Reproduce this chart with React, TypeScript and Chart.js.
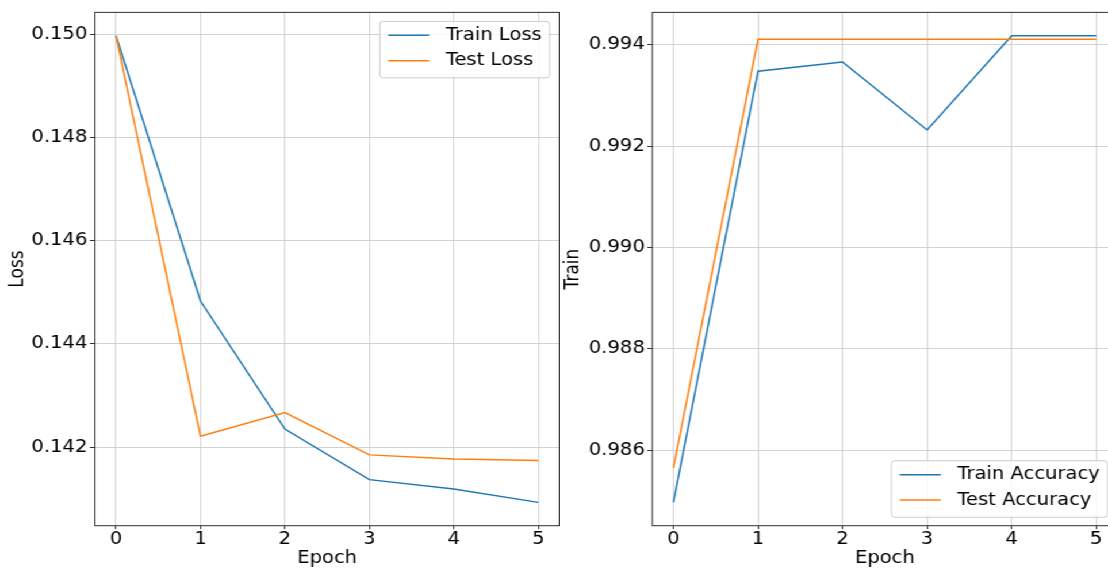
import React, { useEffect, useRef } from 'react';
import { Chart, registerables } from 'chart.js';

Chart.register(...registerables);

// ---- data ----
const epochs = [0, 1, 2, 3, 4, 5];
const epochTickLabels = ['0', '1', '2', '3', '4', '5'];

const trainLoss = [0.14997, 0.14483, 0.14235, 0.14137, 0.14119, 0.14093];
const testLoss = [0.149965, 0.14221, 0.14267, 0.14185, 0.14177, 0.14174];

const trainAccuracy = [0.98497, 0.99348, 0.99366, 0.99232, 0.99418, 0.99418];
const testAccuracy = [0.98565, 0.99411, 0.99411, 0.99411, 0.99411, 0.99411];

const lossTicks = [0.142, 0.144, 0.146, 0.148, 0.15];
const lossTickLabels = ['0.142', '0.144', '0.146', '0.148', '0.150'];
const accTicks = [0.986, 0.988, 0.99, 0.992, 0.994];
const accTickLabels = ['0.986', '0.988', '0.990', '0.992', '0.994'];

// ---- style ----
const FONT = '"DejaVu Sans", "Liberation Sans", sans-serif';
const S = 1.15; // horizontal stretch of the reference picture
const FS = 17;
const HALF_LH = (FS * 1.2) / 2;
const BLUE = '#1f77b4';
const ORANGE = '#ff7f0e';
const GRID = '#c8c8c8';
const TEXT = '#000';

// layout in picture pixels, converted to unstretched units
const LEFT_CANVAS_W = Math.round(560 / S);
const LEFT_AREA_L = 94.9 / S;
const LEFT_AREA_R = 559.4 / S;
const RIGHT_AREA_L = 652.3 / S - LEFT_CANVAS_W;
const RIGHT_AREA_R_ABS = 1117.4 / S;
const RIGHT_CANVAS_W = Math.ceil(RIGHT_AREA_R_ABS) - LEFT_CANVAS_W;

function autoRange(values: number[]): [number, number] {
  const lo = Math.min(...values);
  const hi = Math.max(...values);
  const m = (hi - lo) * 0.05;
  return [lo - m, hi + m];
}

const framePlugin = {
  id: 'frame',
  afterDatasetsDraw(chart: any) {
    const { ctx, chartArea: a } = chart;
    ctx.save();
    ctx.strokeStyle = '#2e2e2e';
    ctx.lineWidth = 1;
    ctx.strokeRect(a.left, a.top, a.right - a.left, a.bottom - a.top);
    ctx.restore();
  },
};

function legendPlugin(loc: 'upper right' | 'lower right') {
  return {
    id: 'mplLegend',
    afterDraw(chart: any) {
      const { ctx, chartArea: a } = chart;
      const ds = chart.data.datasets;
      ctx.save();
      ctx.font = `${FS}px ${FONT}`;
      const textW = Math.max(...ds.map((d: any) => ctx.measureText(d.label).width));
      const textStart = 66 / S;
      const w = textStart + textW + 7.8 / S;
      const h = 56.5;
      const right = a.right - 9.8 / S;
      const left = right - w;
      const top = loc === 'upper right' ? a.top + 9 : a.bottom - 8.4 - h;
      ctx.beginPath();
      ctx.roundRect(left, top, w, h, 3);
      ctx.fillStyle = 'rgba(255,255,255,0.8)';
      ctx.fill();
      ctx.strokeStyle = '#cccccc';
      ctx.lineWidth = 1;
      ctx.stroke();
      ds.forEach((d: any, i: number) => {
        const y = top + 14 + i * 25.3;
        ctx.beginPath();
        ctx.moveTo(left + 8.4 / S, y);
        ctx.lineTo(left + 49.4 / S, y);
        ctx.strokeStyle = d.borderColor;
        ctx.lineWidth = 1.5;
        ctx.stroke();
        ctx.fillStyle = TEXT;
        ctx.textAlign = 'left';
        ctx.textBaseline = 'middle';
        ctx.fillText(d.label, left + textStart, y);
      });
      ctx.restore();
    },
  };
}

interface Cfg {
  train: number[];
  test: number[];
  trainLabel: string;
  testLabel: string;
  ticks: number[];
  tickLabels: string[];
  yTitle: string;
  yWidth: number;
  yTitlePad: number;
  padRight: number;
  legendLoc: 'upper right' | 'lower right';
}

function buildConfig(c: Cfg): any {
  const [ymin, ymax] = autoRange([...c.train, ...c.test]);
  const [xmin, xmax] = autoRange(epochs);
  const font = { family: FONT, size: FS };
  return {
    type: 'line',
    data: {
      datasets: [
        {
          label: c.trainLabel,
          data: epochs.map((e, i) => ({ x: e, y: c.train[i] })),
          borderColor: BLUE,
          backgroundColor: BLUE,
          borderWidth: 1.5,
          pointRadius: 0,
          tension: 0,
          fill: false,
          order: 1,
        },
        {
          label: c.testLabel,
          data: epochs.map((e, i) => ({ x: e, y: c.test[i] })),
          borderColor: ORANGE,
          backgroundColor: ORANGE,
          borderWidth: 1.5,
          pointRadius: 0,
          tension: 0,
          fill: false,
          order: 0,
        },
      ],
    },
    options: {
      responsive: false,
      animation: false,
      events: [],
      layout: { padding: { top: 10, left: 0, right: c.padRight, bottom: 0 } },
      plugins: {
        legend: { display: false },
        tooltip: { enabled: false },
        title: { display: false },
      },
      scales: {
        x: {
          type: 'linear',
          min: xmin,
          max: xmax,
          afterBuildTicks: (s: any) => {
            s.ticks = epochs.map((v) => ({ value: v }));
          },
          afterFit: (s: any) => {
            s.height = 43.3;
          },
          ticks: {
            autoSkip: false,
            maxRotation: 0,
            minRotation: 0,
            padding: 0,
            color: TEXT,
            font,
            callback: (_v: any, i: number) => epochTickLabels[i],
          },
          grid: { color: GRID, lineWidth: 0.8, tickLength: 3.5, tickColor: '#333', tickWidth: 1, drawTicks: true },
          border: { display: false },
          title: {
            display: true,
            text: 'Epoch',
            color: TEXT,
            font,
            padding: { top: 0, bottom: Math.max(0, 569 - 558.7 - HALF_LH) },
          },
        },
        y: {
          type: 'linear',
          min: ymin,
          max: ymax,
          afterBuildTicks: (s: any) => {
            s.ticks = c.ticks.map((v) => ({ value: v }));
          },
          afterFit: (s: any) => {
            s.width = c.yWidth;
          },
          ticks: {
            autoSkip: false,
            padding: 2.5 / S,
            color: TEXT,
            font,
            callback: (_v: any, i: number) => c.tickLabels[i],
          },
          grid: { color: GRID, lineWidth: 0.8, tickLength: 5 / S, tickColor: '#333', tickWidth: 1, drawTicks: true },
          border: { display: false },
          title: { display: true, text: c.yTitle, color: TEXT, font, padding: { top: c.yTitlePad, bottom: 0 } },
        },
      },
    },
    plugins: [framePlugin, legendPlugin(c.legendLoc)],
  };
}

export default function App() {
  const leftRef = useRef<HTMLCanvasElement>(null);
  const rightRef = useRef<HTMLCanvasElement>(null);

  useEffect(() => {
    const c1 = new Chart(
      leftRef.current as HTMLCanvasElement,
      buildConfig({
        train: trainLoss,
        test: testLoss,
        trainLabel: 'Train Loss',
        testLabel: 'Test Loss',
        ticks: lossTicks,
        tickLabels: lossTickLabels,
        yTitle: 'Loss',
        yWidth: LEFT_AREA_L,
        yTitlePad: Math.max(0, 17.8 / S - HALF_LH),
        padRight: LEFT_CANVAS_W - LEFT_AREA_R,
        legendLoc: 'upper right',
      })
    );
    const c2 = new Chart(
      rightRef.current as HTMLCanvasElement,
      buildConfig({
        train: trainAccuracy,
        test: testAccuracy,
        trainLabel: 'Train Accuracy',
        testLabel: 'Test Accuracy',
        ticks: accTicks,
        tickLabels: accTickLabels,
        yTitle: 'Train',
        yWidth: RIGHT_AREA_L,
        yTitlePad: Math.max(0, 573.3 / S - LEFT_CANVAS_W - HALF_LH),
        padRight: LEFT_CANVAS_W + RIGHT_CANVAS_W - RIGHT_AREA_R_ABS,
        legendLoc: 'lower right',
      })
    );
    return () => {
      c1.destroy();
      c2.destroy();
    };
  }, []);

  return (
    <div
      style={{
        position: 'fixed',
        left: 0,
        top: 0,
        width: 1108,
        height: 569,
        overflow: 'hidden',
        background: '#fff',
      }}
    >
      <div
        style={{
          position: 'absolute',
          left: 0,
          top: 0,
          width: LEFT_CANVAS_W + RIGHT_CANVAS_W,
          height: 569,
          transform: `scaleX(${S})`,
          transformOrigin: '0 0',
        }}
      >
        <canvas
          ref={leftRef}
          width={LEFT_CANVAS_W}
          height={569}
          style={{ position: 'absolute', left: 0, top: 0, width: LEFT_CANVAS_W, height: 569 }}
        />
        <canvas
          ref={rightRef}
          width={RIGHT_CANVAS_W}
          height={569}
          style={{ position: 'absolute', left: LEFT_CANVAS_W, top: 0, width: RIGHT_CANVAS_W, height: 569 }}
        />
      </div>
    </div>
  );
}
